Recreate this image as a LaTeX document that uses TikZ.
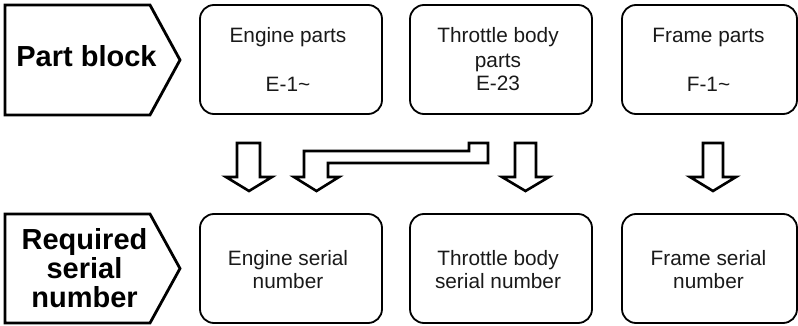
\documentclass[tikz,border=0pt]{standalone}
\usepackage{fontspec}
\setmainfont{Liberation Sans}
\begin{document}
\begin{tikzpicture}[x=1pt,y=-1pt,
  rbox/.style={draw=black,line width=1.8pt,rounded corners=14pt,inner sep=0pt},
  headtext/.style={font=\fontsize{29}{29}\selectfont\bfseries,anchor=base,inner sep=0pt},
  boxtext/.style={font=\fontsize{20.8}{24}\selectfont,anchor=base,inner sep=0pt,text=black!90},
  blockarrow/.style={draw=black,fill=white,line width=2.6pt,line join=miter}]
\useasboundingbox (0,0) rectangle (798,326);
% left pentagon labels
\draw[line width=2.8pt,line join=miter] (5,5) -- (150,5) -- (180,60) -- (150,115) -- (5,115) -- cycle;
\draw[line width=2.8pt,line join=miter] (5,214) -- (150,214) -- (180,268.5) -- (150,323) -- (5,323) -- cycle;
\node[headtext] (pb) at (86.5,67) {Part block};
\node[headtext] (rq1) at (84.5,249) {Required};
\node[headtext] (rq2) at (84.5,278) {serial};
\node[headtext] (rq3) at (84.5,307) {number};
% top boxes
\path (200,5) coordinate (e1) (382,114) coordinate (e2);
\draw[rbox] (e1) rectangle (e2);
\path (410,5) coordinate (t1) (592,114) coordinate (t2);
\draw[rbox] (t1) rectangle (t2);
\path (622,5) coordinate (f1) (797,114) coordinate (f2);
\draw[rbox] (f1) rectangle (f2);
\node[boxtext] (eA) at (288,43) {Engine parts};
\node[boxtext] (eB) at (288,91.5) {E-1\textasciitilde};
\node[boxtext] (tA) at (498,43) {Throttle body};
\node[boxtext] (tB) at (498,67.5) {parts};
\node[boxtext] (tC) at (498,91) {E-23};
\node[boxtext] (fA) at (708.5,43) {Frame parts};
\node[boxtext] (fB) at (708.5,91.5) {F-1\textasciitilde};
% bottom boxes
\path (200,214) coordinate (es1) (382,323) coordinate (es2);
\draw[rbox] (es1) rectangle (es2);
\path (410,214) coordinate (ts1) (592,323) coordinate (ts2);
\draw[rbox] (ts1) rectangle (ts2);
\path (622,214) coordinate (fs1) (797,323) coordinate (fs2);
\draw[rbox] (fs1) rectangle (fs2);
\node[boxtext] (esA) at (288,265) {Engine serial};
\node[boxtext] (esB) at (288,288) {number};
\node[boxtext] (tsA) at (498,265) {Throttle body};
\node[boxtext] (tsB) at (498,288) {serial number};
\node[boxtext] (fsA) at (708.5,265) {Frame serial};
\node[boxtext] (fsB) at (708.5,288) {number};
% block arrows
\draw[blockarrow] (237,143) -- (260,143) -- (260,177) -- (272,177) -- (249,191) -- (226,177) -- (237,177) -- cycle;
\draw[blockarrow] (469,143) -- (488,143) -- (488,163) -- (328,163) -- (328,177) -- (339,177) -- (316.5,191) -- (294,177) -- (304,177) -- (304,151) -- (469,151) -- cycle;
\draw[blockarrow] (515,143) -- (536,143) -- (536,177) -- (549,177) -- (525.5,191) -- (502,177) -- (515,177) -- cycle;
\draw[blockarrow] (703,143) -- (723,143) -- (723,177) -- (736,177) -- (713,191) -- (690,177) -- (703,177) -- cycle;
\end{tikzpicture}
\end{document}
